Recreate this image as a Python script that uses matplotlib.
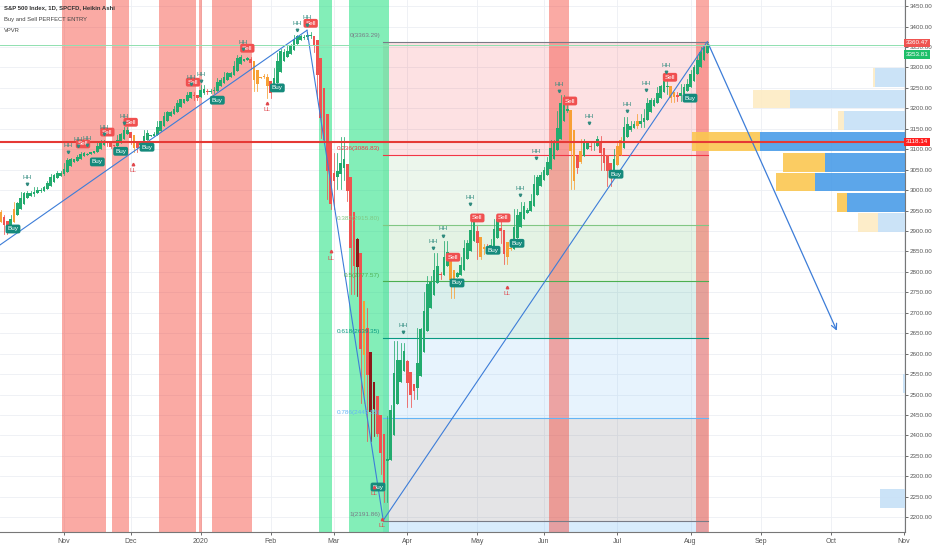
import numpy as np
import matplotlib.pyplot as plt
from matplotlib.patches import Rectangle

# S&P 500 daily closes, Oct 1 2019 .. Aug 10 2020 (bar 0 = Nov 1 2019)
first_bar = -23
closes = [
    2940.25, 2887.61, 2910.63, 2952.01, 2938.79, 2893.06, 2919.40, 2938.13, 2970.27, 2966.15, 2995.68, 2989.69,
    2997.95, 2986.20, 3006.72, 2995.99, 3004.52, 3010.29, 3022.55, 3039.42, 3036.89, 3046.77, 3037.56,
    3066.91, 3078.27, 3074.62, 3076.78, 3085.18, 3093.08, 3087.01, 3091.84, 3094.04, 3096.63, 3120.46, 3122.03,
    3120.18, 3108.46, 3103.54, 3110.29, 3133.64, 3140.52, 3153.63, 3140.98,
    3113.87, 3093.20, 3112.76, 3117.43, 3145.91, 3135.96, 3132.52, 3141.63, 3168.57, 3168.80, 3191.45, 3192.52,
    3191.14, 3205.37, 3221.22, 3224.01, 3223.38, 3239.91, 3240.02, 3221.29, 3230.78,
    3257.85, 3234.85, 3246.28, 3237.18, 3253.05, 3274.70, 3265.35, 3288.13, 3283.15, 3289.29, 3316.81, 3329.62,
    3320.79, 3321.75, 3325.54, 3295.47, 3243.63, 3276.24, 3273.40, 3283.66, 3225.52,
    3248.92, 3297.59, 3334.69, 3345.78, 3327.71, 3352.09, 3357.75, 3379.45, 3373.94, 3380.16, 3370.29, 3386.15,
    3373.23, 3337.75, 3225.89, 3128.21, 3116.39, 2978.76, 2954.22,
    3090.23, 3003.37, 3130.12, 3023.94, 2972.37, 2746.56, 2882.23, 2741.38, 2480.64, 2711.02, 2386.13, 2529.19,
    2398.10, 2409.39, 2304.92, 2237.40, 2447.33, 2475.56, 2630.07, 2541.47, 2626.65, 2584.59,
    2470.50, 2526.90, 2488.65, 2663.68, 2659.41, 2749.98, 2789.82, 2761.63, 2846.06, 2783.36, 2799.55, 2874.56,
    2823.16, 2736.56, 2799.31, 2797.80, 2836.74, 2878.48, 2863.39, 2939.51, 2912.43,
    2830.71, 2842.74, 2868.44, 2848.42, 2881.19, 2929.80, 2930.32, 2870.12, 2820.00, 2852.50, 2863.70, 2953.91,
    2922.94, 2971.61, 2948.51, 2955.45, 2991.77, 3036.13, 3029.73, 3044.31,
    3055.73, 3080.82, 3122.87, 3112.35, 3193.93, 3232.39, 3207.18, 3190.14, 3002.10, 3041.31, 3066.59, 3124.74,
    3113.49, 3115.34, 3097.74, 3117.86, 3131.29, 3050.33, 3083.76, 3009.05, 3053.24, 3100.29,
    3115.86, 3130.01, 3179.72, 3145.32, 3169.94, 3152.05, 3185.04, 3155.22, 3197.52, 3226.56, 3215.57, 3224.73,
    3251.84, 3257.30, 3276.02, 3235.66, 3215.63, 3239.41, 3218.44, 3258.44, 3246.22, 3271.12,
    3294.61, 3306.51, 3327.77, 3349.16, 3351.28, 3360.47,
]

month_pos = [0, 20, 41, 62, 81, 103, 124, 144, 166, 188, 209, 230, 252]
month_labels = ['Nov', 'Dec', '2020', 'Feb', 'Mar', 'Apr', 'May', 'Jun', 'Jul', 'Aug', 'Sep', 'Oct', 'Nov']

orange_bars = [-19, -15, 21, 57, 58, 59, 60, 61, 90, 116, 117, 125, 126, 133, 134, 152, 153, 155, 166, 167, 172, 182, 183]
maroon_bars = [88, 92, 93]

red_zones = [(0, 12), (15, 19), (29, 39), (41, 41), (45, 56), (146, 151), (190, 193)]
green_zones = [(77, 80), (86, 97)]

# fib retracement
fib_hi, fib_lo = 3363.29, 2191.86
fib_start, fib_end = 95.7, 193.2
fib_levels = [0, 0.236, 0.382, 0.5, 0.618, 0.786, 1]
fib_colors = ['#787b86', '#f23645', '#81c784', '#4caf50', '#089981', '#64b5f6', '#787b86']

# drawn trend lines (bar, price)
trend_lines = [
    [(-19.2, 2866), (72.9, 3391)],
    [(72.9, 3391), (95.7, 2196)],
    [(95.7, 2191.86), (193, 3363.29)],
]
arrow_line = [(193, 3363.29), (232.2, 2650)]

# signals (bar, price)
buy_sig = [(-15.3, 2905), (10, 3069), (17, 3095), (24.9, 3105), (46, 3220), (64, 3250), (94.2, 2274),
           (117.9, 2773), (128.7, 2853), (135.9, 2870), (165.6, 3039), (187.8, 3225)]
sell_sig = [(5.7, 3113), (13, 3142), (20, 3166), (38.7, 3264), (55, 3347), (74, 3408), (116.7, 2836),
            (124, 2932), (131.8, 2932), (151.8, 3218), (181.8, 3276)]
hh_sig = [(-11, 3032), (1.2, 3110), (4.2, 3125), (7, 3127), (12, 3154), (18, 3181), (38, 3276), (41, 3284),
          (53.7, 3362), (70, 3408), (73, 3421), (101.7, 2668), (110.7, 2875), (113.7, 2905), (121.8, 2981),
          (136.8, 3005), (141.6, 3095), (148.5, 3259), (157.5, 3181), (168.9, 3210), (174.6, 3262), (180.6, 3306)]
ll_sig = [(20.7, 3049), (61, 3196), (80, 2834), (93, 2259), (95.5, 2181), (132.9, 2748)]

# volume profile rows
vp_price = [3275, 3223, 3170, 3118, 3068, 3020, 2970, 2920, 2528, 2245]
vp_up = [30, 115, 61, 145, 80, 90, 58, 27, 2, 25]
vp_down = [2, 37, 6, 68, 42, 39, 10, 20, 0, 0]
vp_value_area = [False, False, False, True, True, True, True, False, False, False]

close_price, ha_last, level_line = 3360.47, 3353.81, 3118.14

# heikin ashi
c = np.array(closes)
o = np.r_[c[0], c[:-1]]
hi = np.maximum(o, c)
lo = np.minimum(o, c)
ha_c = (o + hi + lo + c) / 4
ha_o = np.zeros_like(c)
ha_o[0] = (o[0] + c[0]) / 2
for k in range(1, len(c)):
    ha_o[k] = (ha_o[k - 1] + ha_c[k - 1]) / 2
ha_h = np.maximum.reduce([hi, ha_o, ha_c])
ha_l = np.minimum.reduce([lo, ha_o, ha_c])
bars = np.arange(len(c)) + first_bar
ha_c[-1] = ha_last

plt.rcParams['font.family'] = ['Liberation Sans', 'DejaVu Sans']
fig = plt.figure(figsize=(9.32, 5.5), dpi=100)
ax = fig.add_axes([0, 18 / 550, 905 / 932, 532 / 550])
x0, x1 = -19.2, 252.3
ax.set_xlim(x0, x1)
ax.set_ylim(2164, 3465)

for a, b in red_zones:
    ax.axvspan(a - 0.5, b + 0.5, color='#f44336', alpha=0.45, lw=0, zorder=0.6)
for a, b in green_zones:
    ax.axvspan(a - 0.5, b + 0.5, color='#1ee07f', alpha=0.55, lw=0, zorder=0.6)

# fib
rng = fib_hi - fib_lo
lvl_price = [fib_hi - f * rng for f in fib_levels]
for k in range(len(fib_levels)):
    p = lvl_price[k]
    ax.plot([fib_start, fib_end], [p, p], color=fib_colors[k], lw=0.8, zorder=1)
    if k > 0:
        ax.fill_between([fib_start, fib_end], lvl_price[k - 1], p, color=fib_colors[k],
                        alpha=0.2 if k == 6 else 0.15, lw=0, zorder=0.5)
    lab = '%g(%.2f)' % (fib_levels[k], p)
    ax.text(fib_start - 0.8, p + 8, lab, color=fib_colors[k], fontsize=4.6, ha='right', va='bottom', zorder=5)
ax.fill_between([fib_start, fib_end], 2150, fib_lo, color='#64b5f6', alpha=0.25, lw=0, zorder=0.5)

# grid
for p in range(2200, 3451, 50):
    ax.axhline(p, color='#eceff4', lw=0.6, zorder=0.3)
for m in month_pos:
    ax.axvline(m, color='#eceff4', lw=0.6, zorder=0.3)

# candles
for k, b in enumerate(bars):
    if b < -20:
        continue
    col = '#22ab6e' if ha_c[k] >= ha_o[k] else '#ef5350'
    if b in orange_bars:
        col = '#f7a035'
    if b in maroon_bars:
        col = '#8b1a1a'
    ax.plot([b, b], [ha_l[k], ha_h[k]], color=col, lw=0.55, zorder=3)
    bot = min(ha_o[k], ha_c[k])
    ht = max(abs(ha_c[k] - ha_o[k]), 1.5)
    ax.add_patch(Rectangle((b - 0.37, bot), 0.74, ht, color=col, lw=0, zorder=3.1))

# lines
ax.axhline(level_line, color='#e53935', lw=1.5, zorder=4)
ax.axhline(ha_last, color='#8fe0b0', lw=0.7, zorder=4)
for seg in trend_lines:
    ax.plot([seg[0][0], seg[1][0]], [seg[0][1], seg[1][1]], color='#3d7dd8', lw=0.8, zorder=3.5)
ax.annotate('', xy=arrow_line[1], xytext=arrow_line[0],
            arrowprops=dict(arrowstyle='->', color='#3d7dd8', lw=0.9, mutation_scale=10), zorder=3.5)

# volume profile
px_per_bar = 905 / (x1 - x0)
for k, p in enumerate(vp_price):
    w_up = vp_up[k] / px_per_bar
    w_dn = vp_down[k] / px_per_bar
    cu = '#4a9ce8' if vp_value_area[k] else '#c6e0f7'
    cd = '#fbc751' if vp_value_area[k] else '#fdebc4'
    ax.add_patch(Rectangle((x1 - w_up, p - 23), w_up, 46, color=cu, lw=0, alpha=0.9, zorder=3.3))
    if w_dn > 0:
        ax.add_patch(Rectangle((x1 - w_up - w_dn, p - 23), w_dn, 46, color=cd, lw=0, alpha=0.9, zorder=3.3))

# signals
for b, p in buy_sig:
    ax.text(b, p, 'Buy', color='white', fontsize=4.6, ha='center', va='center', zorder=6,
            bbox=dict(boxstyle='round,pad=0.3', fc='#158a7c', ec='none'))
for b, p in sell_sig:
    ax.text(b, p, 'Sell', color='white', fontsize=4.6, ha='center', va='center', zorder=6,
            bbox=dict(boxstyle='round,pad=0.3', fc='#f05050', ec='none'))
for b, p in hh_sig:
    ax.text(b, p, 'HH', color='#2f8a7e', fontsize=4.6, ha='center', va='center', zorder=6)
    ax.plot(b, p - 16, marker='v', ms=1.8, color='#2f8a7e', zorder=6)
for b, p in ll_sig:
    ax.text(b, p, 'LL', color='#e0474c', fontsize=4.6, ha='center', va='center', zorder=6)
    ax.plot(b, p + 16, marker='^', ms=1.8, color='#e0474c', zorder=6)

# axes styling
ax.yaxis.tick_right()
ax.set_yticks(range(2200, 3451, 50))
ax.set_yticklabels(['%.2f' % p for p in range(2200, 3451, 50)])
ax.set_xticks(month_pos)
ax.set_xticklabels(month_labels)
ax.tick_params(axis='both', colors='#555555', length=2.5, width=0.6)
ax.tick_params(axis='x', pad=2, labelsize=5)
ax.tick_params(axis='y', pad=1, labelsize=4.5)
for s in ['top', 'left']:
    ax.spines[s].set_visible(False)
for s in ['right', 'bottom']:
    ax.spines[s].set_color('#777777')
    ax.spines[s].set_linewidth(0.8)

# price tags on right axis
tags = [(close_price, close_price, '#ef5350'), (ha_last, ha_last - 22, '#1fbf6a'), (level_line, level_line, '#ff2020')]
for p, py, col in tags:
    ax.text(x1 + 0.3, py, '%.2f' % p, color='white', fontsize=4.5, ha='left', va='center', zorder=8,
            clip_on=False, bbox=dict(boxstyle='square,pad=0.25', fc=col, ec='none'))

fig.text(4 / 932, 1 - 8 / 550, 'S&P 500 Index, 1D, SPCFD, Heikin Ashi', fontsize=4.3, color='#333333',
         fontweight='bold', va='center')
fig.text(4 / 932, 1 - 19 / 550, 'Buy and Sell PERFECT ENTRY', fontsize=4.2, color='#444444', va='center')
fig.text(4 / 932, 1 - 30 / 550, 'VPVR', fontsize=4.2, color='#444444', va='center')

fig.savefig('out.png', dpi=100)
